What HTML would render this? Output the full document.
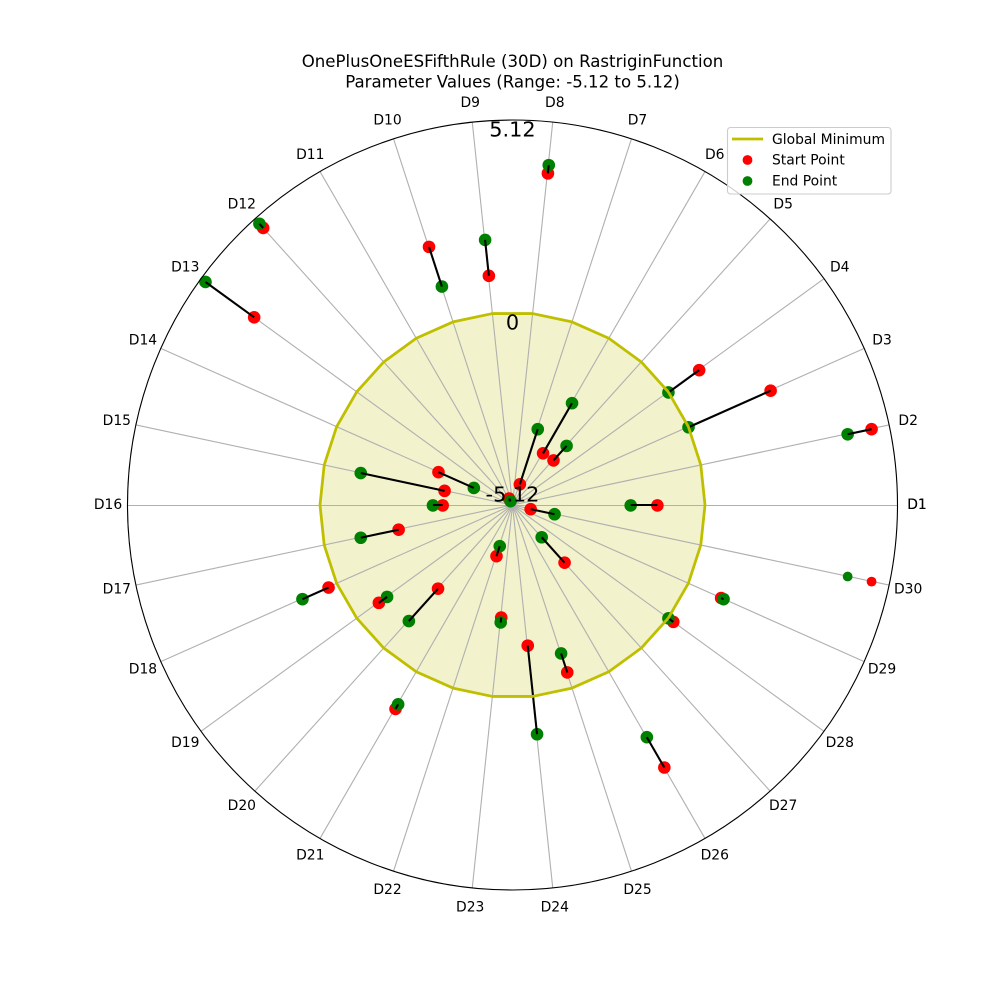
<!DOCTYPE html>
<html lang="en">
<head>
<meta charset="utf-8">
<title>OnePlusOneESFifthRule (30D) on RastriginFunction</title>
<style>
html,body{margin:0;padding:0;background:#fff;width:1000px;height:1000px;overflow:hidden}
svg{display:block;font-family:"DejaVu Sans","Liberation Sans",sans-serif}
text{fill:#000}
</style>
</head>
<body>
<svg id="chart" xmlns="http://www.w3.org/2000/svg" width="1000" height="1000" viewBox="0 0 1000 1000">
  <rect x="0" y="0" width="1000" height="1000" fill="#fff"/>
  <g id="plot"></g>
  <g font-size="16.6" text-anchor="middle">
    <text x="512.5" y="67">OnePlusOneESFifthRule (30D) on RastriginFunction</text>
    <text x="512.5" y="87.5">Parameter Values (Range: -5.12 to 5.12)</text>
  </g>
  <g id="labels"></g>
  <g>
    <rect x="727.5" y="127.5" width="163.5" height="66.5" rx="3" ry="3" fill="#fff" fill-opacity="0.8" stroke="#ccc" stroke-width="1.1"/>
    <line x1="732" y1="139" x2="763" y2="139" stroke="#bfbf00" stroke-width="2.78"/>
    <text x="772" y="144" font-size="13.89">Global Minimum</text>
    <circle cx="747.5" cy="160" r="4.9" fill="#ff0000"/>
    <text x="772" y="164.5" font-size="13.89">Start Point</text>
    <circle cx="747.5" cy="181" r="4.9" fill="#008000"/>
    <text x="772" y="185.5" font-size="13.89">End Point</text>
  </g>
</svg>
<script>
const dimensions = ["D1","D2","D3","D4","D5","D6","D7","D8","D9","D10","D11","D12","D13","D14","D15","D16","D17","D18","D19","D20","D21","D22","D23","D24","D25","D26","D27","D28","D29","D30"];
const startValues = [-1.28,4.63,2.38,1.00,-3.51,-3.52,-4.53,3.76,1.02,2.11,-4.91,4.81,3.39,-2.95,-3.26,-3.25,-2.01,0.25,-0.71,-2.14,1.13,-3.70,-2.12,-1.37,-0.45,2.93,-3.07,0.15,0.94,-4.64];
const endValues = [-1.99,3.98,-0.01,-0.01,-2.99,-1.98,-2.99,3.98,1.98,1.00,-4.99,4.96,4.99,-3.98,-0.98,-2.99,-0.98,1.01,-0.98,-0.98,0.99,-3.98,-1.99,1.00,-0.98,2.00,-3.98,-0.01,1.01,-3.99];
const extraStartValues = [4.63];
const extraEndValues = [3.98];
const extraDimensionIndex = [29];
const globalMinimumValue = 0;
const radialTicks = ["-5.12","0","5.12"];
const radialTickValues = [-5.12,0,5.12];

const NS = "http://www.w3.org/2000/svg";
const CX = 512.5, CY = 505, R = 385, VMIN = -5.12, VMAX = 5.12;
const MARK_DX = 0.5, MARK_DY = 0.4;
const plot = document.getElementById("plot");
const labels = document.getElementById("labels");

function rScale(v){ return (v - VMIN) / (VMAX - VMIN) * R; }
function angleOf(i){ return i * 2 * Math.PI / dimensions.length; }
function px(i, v){ return CX + rScale(v) * Math.cos(angleOf(i)); }
function py(i, v){ return CY - rScale(v) * Math.sin(angleOf(i)); }
function isHorizontal(i){ return Math.abs(Math.sin(angleOf(i))) < 1e-9; }
function make(tag, parent, attrs){
  const el = document.createElementNS(NS, tag);
  for (const k in attrs) el.setAttribute(k, attrs[k]);
  parent.appendChild(el);
  return el;
}

// filled global-minimum region
const polyPoints = dimensions.map((d, i) => px(i, globalMinimumValue).toFixed(2) + "," + py(i, globalMinimumValue).toFixed(2)).join(" ");
const fillEl = make("polygon", plot, {points: polyPoints, fill: "#bfbf00", "fill-opacity": 0.2, stroke: "none"});



// spokes (horizontal ones snap to a pixel row)
dimensions.forEach((d, i) => {
  const snap = isHorizontal(i) ? 0.5 : 0;
  const spoke = make("line", plot, {x1: CX, y1: CY + snap, x2: px(i, VMAX), y2: py(i, VMAX) + snap, stroke: "#b0b0b0", "stroke-width": 1.11});
  
  
});

// start and end markers
dimensions.forEach((d, i) => {
  const s = make("circle", plot, {cx: px(i, startValues[i]) + MARK_DX, cy: py(i, startValues[i]) + MARK_DY, r: 6.3, fill: "#ff0000"});
  
  
});
dimensions.forEach((d, i) => {
  const e = make("circle", plot, {cx: px(i, endValues[i]) + MARK_DX, cy: py(i, endValues[i]) + MARK_DY, r: 6.3, fill: "#008000"});
  
  
});

// the smaller markers on the D30 spoke
extraDimensionIndex.forEach((idx, k) => {
  const s = make("circle", plot, {cx: px(idx, extraStartValues[k]) + MARK_DX, cy: py(idx, extraStartValues[k]) + MARK_DY, r: 4.9, fill: "#ff0000"});
  
  
  const e = make("circle", plot, {cx: px(idx, extraEndValues[k]) + MARK_DX, cy: py(idx, extraEndValues[k]) + MARK_DY, r: 4.9, fill: "#008000"});
  
  
});

// connectors from start to end
dimensions.forEach((d, i) => {
  const dy = isHorizontal(i) ? 0 : MARK_DY;
  const c = make("line", plot, {x1: px(i, startValues[i]) + MARK_DX, y1: py(i, startValues[i]) + dy, x2: px(i, endValues[i]) + MARK_DX, y2: py(i, endValues[i]) + dy, stroke: "#000", "stroke-width": 2.08});
  
  
});

// global-minimum outline
const outlineEl = make("polygon", plot, {points: polyPoints, fill: "none", stroke: "#bfbf00", "stroke-width": 2.78, "stroke-linejoin": "round"});



// outer spine
const spine = make("circle", plot, {cx: CX, cy: CY, r: R, fill: "none", stroke: "#000", "stroke-width": 1.11});



// angular labels
const LABEL_R = 404.5;
dimensions.forEach((d, i) => {
  const a = angleOf(i);
  const t = make("text", labels, {x: CX + LABEL_R * Math.cos(a), y: CY - LABEL_R * Math.sin(a) + 4.2, "font-size": 13.89, "text-anchor": "middle"});
  t.textContent = d;
  
  
});
// D1 is drawn twice in the reference (closing tick)
const closing = make("text", labels, {x: CX + LABEL_R, y: CY + 4.2, "font-size": 13.89, "text-anchor": "middle"});
closing.textContent = dimensions[0];



// radial tick labels
radialTicks.forEach((label, k) => {
  const y = (label === "-5.12") ? CY - 3.5 : (label === "0") ? CY - rScale(radialTickValues[k]) + 17 : CY - rScale(radialTickValues[k]) + 16.5;
  const t = make("text", labels, {x: CX, y: y, "font-size": 20.83, "text-anchor": "middle"});
  t.textContent = label;
  
  
});
</script>
</body>
</html>
